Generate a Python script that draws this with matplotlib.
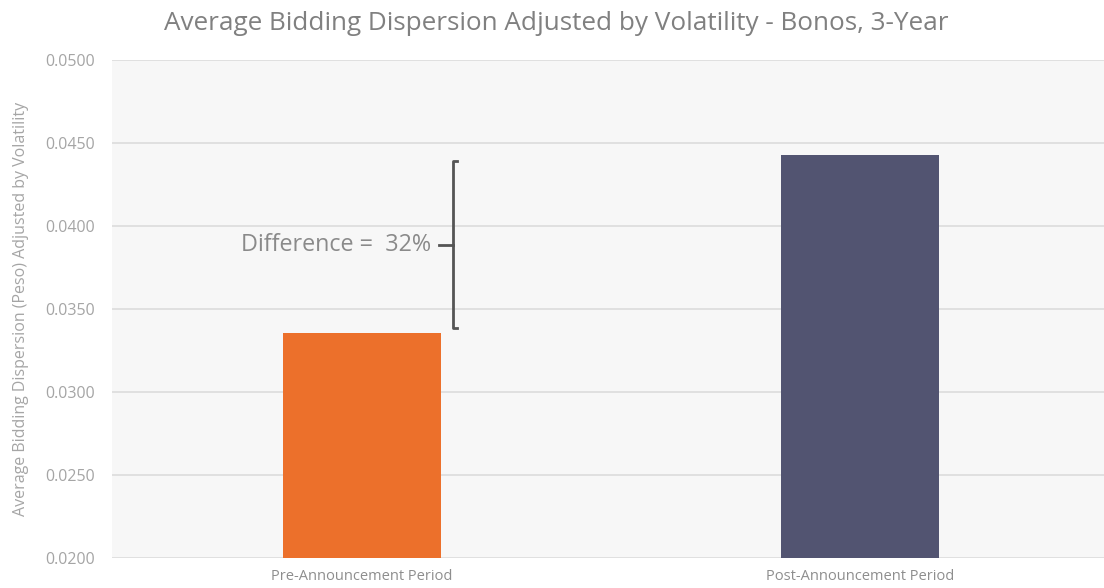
import matplotlib.pyplot as plt

categories = ["Pre-Announcement Period", "Post-Announcement Period"]
values = [0.03355, 0.04430]
bar_colors = ["#ec702b", "#525471"]
yticks = [0.0200, 0.0250, 0.0300, 0.0350, 0.0400, 0.0450, 0.0500]
diff_label = "Difference =  32%"

plt.rcParams["font.family"] = ["Open Sans", "DejaVu Sans"]

fig = plt.figure(figsize=(11.04, 5.88), dpi=100)
ax = fig.add_axes([112 / 1104, 1 - 558 / 588, 992 / 1104, 498 / 588])
ax.set_facecolor("#f7f7f7")

x = list(range(len(categories)))
ax.bar(x, values, width=0.317, color=bar_colors, zorder=3)

ax.set_ylim(0.02, 0.05)
ax.set_xlim(-0.502, 1.49)
ax.set_yticks(yticks)
ax.set_yticklabels([f"{v:.4f}" for v in yticks], fontsize=11.5, color="#a5a5a5")
ax.set_xticks(x)
ax.set_xticklabels(categories, fontsize=10.5, color="#8e8e8e")
ax.tick_params(axis="both", length=0)
ax.tick_params(axis="y", pad=12)
ax.tick_params(axis="x", pad=8)
ax.grid(axis="y", color="#dcdcdc", linewidth=1.2, zorder=0)
for s in ax.spines.values():
    s.set_visible(False)

ax.set_ylabel("Average Bidding Dispersion (Peso) Adjusted by Volatility",
              fontsize=11.5, color="#a5a5a5", labelpad=12)

fig.text(0.504, 0.96, "Average Bidding Dispersion Adjusted by Volatility - Bonos, 3-Year",
         ha="center", va="center", fontsize=18.8, color="#808080")

# bracket showing the gap between the two bars
bx = x[0] + 0.183
top = values[1] - 0.0004
bot = values[0] + 0.0003
mid = (top + bot) / 2
hook = 0.007
ax.plot([bx + hook, bx, bx, bx + hook], [top, top, bot, bot],
        color="#555555", linewidth=2, solid_joinstyle="round", zorder=4)
ax.plot([bx - 0.028, bx], [mid, mid], color="#555555", linewidth=2, zorder=4)
ax.text(bx - 0.044, mid, diff_label, ha="right", va="center",
        fontsize=16.8, color="#8a8a8a")

fig.savefig("out.png", dpi=100)
